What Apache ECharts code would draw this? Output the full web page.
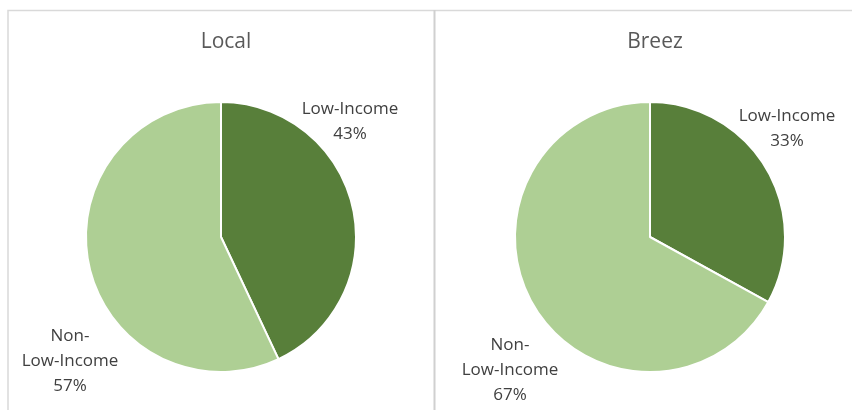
<!DOCTYPE html>
<html><head><meta charset="utf-8">
<script src="https://cdn.jsdelivr.net/npm/echarts@6/dist/echarts.min.js"></script>
<style>html,body{margin:0;padding:0;background:#fff}#c{width:852px;height:410px}</style>
</head><body><div id="c"></div>
<script>
const charts = ['Local', 'Breez'];
const categories = ['Low-Income', 'Non-Low-Income'];
const localValues = [43, 57];
const breezValues = [33, 67];
const labelTexts = ['Low-Income', 'Non-\nLow-Income'];
const colors = ['#587F3A', '#AECF94'];

const chart = echarts.init(document.getElementById('c'));
function mkSeries(name, vals, cx, labelPos) {
  return {
    type: 'pie', name: name, center: [cx, 237], radius: 135,
    startAngle: 90, clockwise: true, animation: false,
    itemStyle: { borderColor: '#fff', borderWidth: 2 },
    labelLine: { show: false },
    data: categories.map((c, i) => ({
      name: c, value: vals[i],
      itemStyle: { color: colors[i] },
      label: { formatter: labelTexts[i] + '\n{d}%' }
    })),
    label: {
      show: true, position: 'outside', color: '#404040', fontSize: 17,
      fontFamily: 'Open Sans, sans-serif', lineHeight: 25, align: 'center',
      overflow: 'none', width: 200
    },
    labelLayout: function (p) {
      const pos = labelPos[p.dataIndex];
      return { x: pos[0], y: pos[1], align: 'center', verticalAlign: 'middle' };
    }
  };
}
const titleStyle = { color: '#595959', fontSize: 21, fontWeight: 'normal', fontFamily: 'Open Sans, sans-serif' };
chart.setOption({
  backgroundColor: '#fff',
  title: [
    { text: charts[0], left: 221, top: 27, textAlign: 'center', textStyle: titleStyle },
    { text: charts[1], left: 650, top: 27, textAlign: 'center', textStyle: titleStyle }
  ],
  graphic: [
    { type: 'polyline', shape: { points: [[8, 410], [8, 10.5], [852, 10.5]] }, style: { stroke: '#d9d9d9', lineWidth: 1.5, fill: null } },
    { type: 'line', shape: { x1: 434.5, y1: 10, x2: 434.5, y2: 410 }, style: { stroke: '#d0d0d0', lineWidth: 2 } }
  ],
  series: [
    mkSeries(charts[0], localValues, 221, [[350, 122], [70, 361]]),
    mkSeries(charts[1], breezValues, 650, [[787, 129], [510, 370]])
  ]
});
</script></body></html>
